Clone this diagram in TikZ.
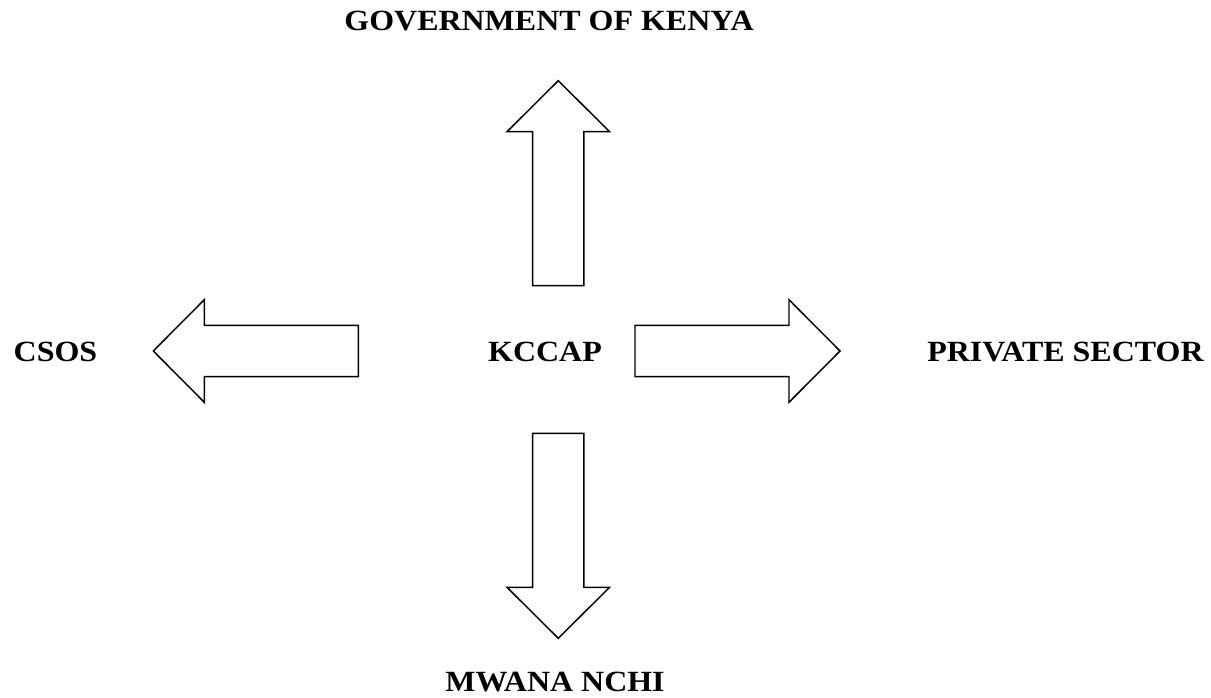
\documentclass[tikz,border=0pt]{standalone}
\usepackage{fontspec}
\setmainfont[FakeStretch=1.09]{Liberation Serif}
\usepackage{tikz}
\usetikzlibrary{positioning}

\tikzset{
    blockarrow/.pic={
        \draw[outline] (0,-25.6) -- (154,-25.6) -- (154,-51.3) -- (205,0)
            -- (154,51.3) -- (154,25.6) -- (0,25.6) -- cycle;
    }
}

\begin{document}
\begin{tikzpicture}[
    x=0.75pt, y=-0.75pt,
    label/.style={font=\fontsize{22}{26}\selectfont\bfseries, inner sep=0pt},
    outline/.style={draw=black, line width=1.1pt, fill=white, line join=miter}
]
    \useasboundingbox (0,0) rectangle (1211,698);

    % Labels
    \node[label] (kccap) at (545,352) {KCCAP};
    \node[label] (gok) at (549,21) {GOVERNMENT OF KENYA};
    \node[label] (csos) at (55.5,352) {CSOS};
    \node[label] (private) at (1065.5,352) {PRIVATE SECTOR};
    \node[label] (mwana) at (555,682) {MWANA NCHI};

    % Arrows
    \pic[rotate=90] at (558.3,285.7) {blockarrow};
    \pic[rotate=-90] at (558.3,433.3) {blockarrow};
    \pic[rotate=180] at (358.3,351) {blockarrow};
    \pic at (635,351) {blockarrow};
\end{tikzpicture}
\end{document}
